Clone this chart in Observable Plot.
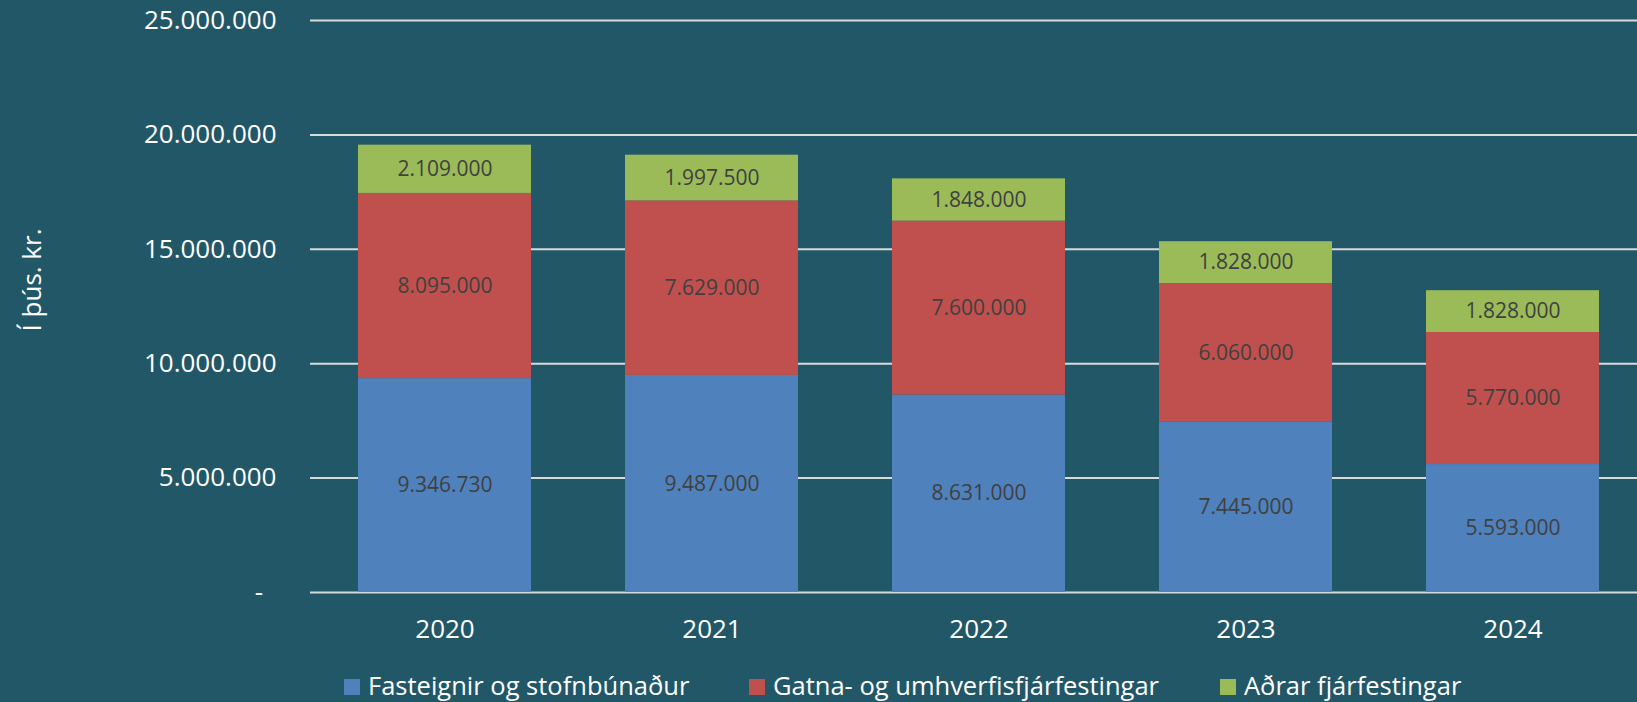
<!DOCTYPE html>
<html>
<head>
<meta charset="utf-8">
<script src="https://cdn.jsdelivr.net/npm/d3@7"></script>
<script src="https://cdn.jsdelivr.net/npm/@observablehq/plot@0.6"></script>
<style>
  html, body { margin: 0; padding: 0; background: #225768; overflow: hidden; }
  body { position: relative; width: 1637px; height: 702px; font-family: "Open Sans", sans-serif; }
  #legend { position: relative; height: 37px; color: #fff; font-size: 25.5px; }
  .item { position: absolute; top: 3px; display: flex; align-items: center; white-space: nowrap; }
  .sw { width: 16px; height: 16px; margin-right: 8px; margin-top: 3px; }
  #ylabel { position: absolute; left: 31px; top: 280px; color: #fff; font-size: 26px; white-space: nowrap;
            transform: translate(-50%, -50%) rotate(-90deg); line-height: 1; }
</style>
</head>
<body>
<div id="chart"></div>
<div id="legend"></div>
<div id="ylabel"></div>
<script>
const years = ["2020", "2021", "2022", "2023", "2024"];
const seriesNames = ["Fasteignir og stofnbúnaður", "Gatna- og umhverfisfjárfestingar", "Aðrar fjárfestingar"];
const fasteignir = [9346730, 9487000, 8631000, 7445000, 5593000];
const gatna = [8095000, 7629000, 7600000, 6060000, 5770000];
const adrar = [2109000, 1997500, 1848000, 1828000, 1828000];
const yTicks = [0, 5000000, 10000000, 15000000, 20000000, 25000000];
const colors = ["#4F81BD", "#C0504D", "#9BBB59"];
const yLabel = "Í þús. kr.";

const seriesValues = [fasteignir, gatna, adrar];
const data = [];
years.forEach((yr, i) => {
  seriesNames.forEach((s, j) => data.push({year: yr, series: s, value: seriesValues[j][i]}));
});

const locale = d3.formatLocale({decimal: ",", thousands: ".", grouping: [3], currency: ["", ""]});
const fmt = locale.format(",d");

const chart = Plot.plot({
  width: 1637,
  height: 665,
  marginLeft: 310,
  marginRight: 0,
  marginTop: 20,
  marginBottom: 73,
  style: {background: "#225768", fontFamily: "Open Sans, sans-serif", color: "#fff"},
  x: {domain: years, range: [310, 1647], paddingInner: 0.353, paddingOuter: 0.1765, label: null},
  y: {domain: [0, 25000000], label: null},
  color: {domain: seriesNames, range: colors},
  marks: [
    Plot.ruleY(yTicks, {stroke: "#d9d9d9", strokeWidth: 2}),
    Plot.barY(data, {x: "year", y: "value", fill: "series", order: null}),
    Plot.text(data, Plot.stackY({x: "year", y: "value", z: "series", text: d => fmt(d.value),
      fill: "#404040", fontSize: 21})),
    Plot.axisY(yTicks, {tickSize: 0, tickPadding: 34, fontSize: 26, fill: "#fff",
      tickFormat: d => d === 0 ? "-\u00a0\u00a0" : fmt(d), label: null}),
    Plot.axisX({tickSize: 0, tickPadding: 27, fontSize: 26, fill: "#fff", label: null})
  ]
});
document.getElementById("chart").appendChild(chart);
document.getElementById("ylabel").textContent = yLabel;

const legend = document.getElementById("legend");
const lefts = [344, 749, 1220];
seriesNames.forEach((s, i) => {
  const it = document.createElement("div");
  it.className = "item";
  it.style.left = lefts[i] + "px";
  it.innerHTML = `<span class="sw" style="background:${colors[i]}"></span><span>${s}</span>`;
  legend.appendChild(it);
});
</script>
</body>
</html>
